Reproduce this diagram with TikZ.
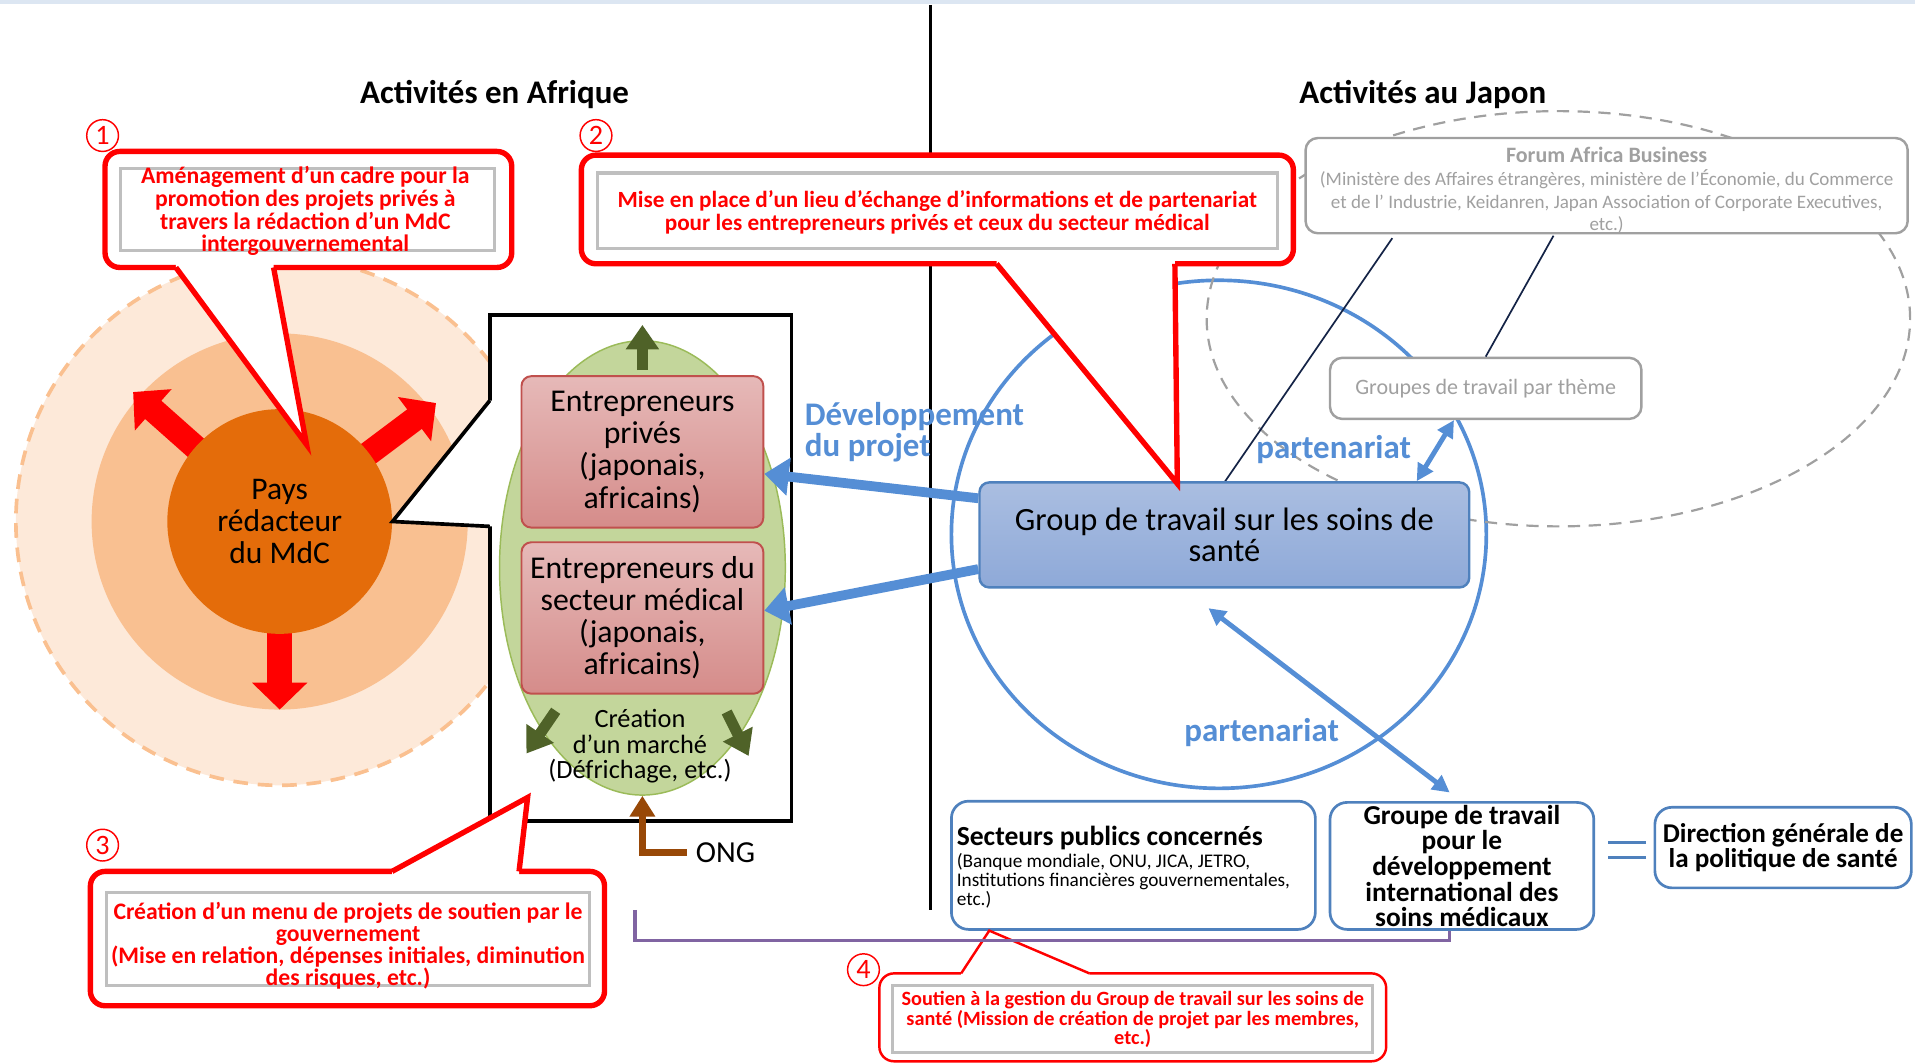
\documentclass[tikz,border=0pt]{standalone}
\usepackage{fontspec}
\setmainfont{Carlito}
\usetikzlibrary{arrows.meta,shapes.geometric,positioning}

\definecolor{calred}{RGB}{255,0,0}
\definecolor{peachout}{RGB}{253,233,217}
\definecolor{peachdash}{RGB}{250,192,144}
\definecolor{peachmid}{RGB}{249,192,145}
\definecolor{orangein}{RGB}{228,108,10}
\definecolor{mktgreen}{RGB}{195,214,155}
\definecolor{mktedge}{RGB}{155,187,89}
\definecolor{olive}{RGB}{79,98,40}
\definecolor{pinktop}{RGB}{230,185,184}
\definecolor{pinkbot}{RGB}{213,140,138}
\definecolor{pinkedge}{RGB}{192,80,77}
\definecolor{ongbrown}{RGB}{152,72,7}
\definecolor{skyblue}{RGB}{85,142,213}
\definecolor{boxblue}{RGB}{79,129,189}
\definecolor{wgtop}{RGB}{170,190,225}
\definecolor{wgbot}{RGB}{142,169,216}
\definecolor{fgray}{RGB}{160,160,160}
\definecolor{navy}{RGB}{20,35,70}
\definecolor{bracket}{RGB}{128,100,162}
\definecolor{topline}{RGB}{220,230,242}

\tikzset{
  title/.style={font=\bfseries\fontsize{13.5}{15}\selectfont},
  numcirc/.style={circle, draw=calred, text=calred, line width=0.6pt, inner sep=0pt,
    minimum size=13pt, font=\fontsize{11.5}{11.5}\selectfont},
  callbox/.style={draw=calred, line width=2.2pt, fill=white, rounded corners=6pt},
  callin/.style={draw=gray!50, line width=1.3pt},
  calltext/.style={text=calred, align=center, inner sep=0pt},
  redarrow/.style={draw=calred, line width=10pt, -{Triangle[length=11pt,width=22pt]}},
  greenarrow/.style={draw=olive, line width=4.5pt, -{Triangle[length=10pt,width=13pt]}},
  ongarrow/.style={draw=ongbrown, line width=3.2pt, -{Triangle[length=8.5pt,width=10pt]}},
  bigblue/.style={draw=skyblue, line width=4pt, -{Triangle[length=10pt,width=15pt]}},
  dblblue/.style={draw=skyblue, line width=2pt,
    {Triangle[length=7pt,width=7pt]}-{Triangle[length=7pt,width=7pt]}},
  pinkbox/.style={draw=pinkedge, line width=0.8pt, rounded corners=4pt,
    top color=pinktop, bottom color=pinkbot, minimum width=99pt, minimum height=62pt,
    inner sep=1pt, align=center, font=\fontsize{13}{13.15}\selectfont},
  graybox/.style={draw=fgray, line width=1pt, rounded corners=5pt, fill=white, text=fgray, align=center},
  bluebox/.style={draw=boxblue, line width=1.1pt, rounded corners=7pt, fill=white, align=center},
  bluelabel/.style={text=skyblue, font=\bfseries\fontsize{13.5}{13}\selectfont},
  navyline/.style={draw=navy, line width=0.7pt},
}

\begin{document}
\begin{tikzpicture}[x=0.5pt,y=-0.5pt]
\useasboundingbox (0,0) rectangle (1568,871);
\draw[topline, line width=2pt] (0,1) -- (1568,1);

\node[title] (tAf) at (405,77) {Activités en Afrique};
\node[title] (tJp) at (1165,77) {Activités au Japon};

% pays redacteur
\def\cx{229}
\def\cy{427}
\fill[peachout] (\cx,\cy) circle[radius=108pt];
\draw[peachdash, line width=1.5pt, dash pattern=on 6pt off 4pt] (\cx,\cy) circle[radius=108pt];
\fill[peachmid] (\cx,\cy) circle[radius=77pt];
\draw[redarrow] (180,384) -- (109,321);
\draw[redarrow] (281,387) -- (357,330);
\draw[redarrow] (\cx,500) -- (\cx,581);
\node[circle, fill=orangein, minimum size=92pt, inner sep=0pt, align=center,
  font=\fontsize{12.9}{13}\selectfont] (pays) at (\cx,\cy) {Pays\\rédacteur\\du MdC};

% market frame
\node[draw, line width=1.5pt, fill=white, minimum width=123.5pt, minimum height=207pt] (frame) at (524.5,465) {};
\coordinate (fb1) at (401,328);
\coordinate (fb2) at (401,431);
\fill[white] (406,328) -- (fb1) -- (pays.east) -- (fb2) -- (406,431) -- cycle;
\draw[line width=1.5pt, line join=miter] (fb1) -- (pays.east) -- (fb2);

\node[ellipse, fill=mktgreen, draw=mktedge, line width=0.6pt, minimum width=117pt,
  minimum height=186pt, inner sep=0pt] (mkt) at (526,465) {};
\draw[greenarrow] (526,303) -- (526,266);
\draw[greenarrow] (455,582) -- (431,617);
\draw[greenarrow] (595,583) -- (613,619);
\node[pinkbox] (pe1) at (526,370) {Entrepreneurs\\privés\\(japonais,\\africains)};
\node[pinkbox] (pe2) at (526,506) {Entrepreneurs du\\secteur médical\\(japonais,\\africains)};
\node[align=center, font=\fontsize{10.8}{10.5}\selectfont] (mtxt) at (524,611)
  {Création\\d’un marché\\(Défrichage, etc.)};
\node[font=\fontsize{12.5}{13}\selectfont] (ong) at (594,698) {ONG};
\draw[ongarrow] (ong.west) -| (mkt.south);

% callout 1
\node[callbox, minimum width=166.5pt, minimum height=47.5pt] (c1) at (252.5,171.5) {};
\coordinate (c1a) at (144,219);
\coordinate (c1b) at (224,219);
\coordinate (c1tip) at (251,364);
\fill[white] (144,213) -- (224,213) -- (c1b) -- (c1tip) -- (c1a) -- cycle;
\draw[calred, line width=2.2pt, line join=miter] (c1a) -- (c1tip) -- (c1b);
\node[callin, minimum width=153pt, minimum height=33.5pt] (c1in) at (252,171.5) {};
\node[calltext, font=\bfseries\fontsize{9.7}{9.3}\selectfont] (c1txt) at (250,173)
  {Aménagement d’un cadre pour la\\promotion des projets privés à\\travers la rédaction d’un MdC\\intergouvernemental};
\node[numcirc] (n1) at (84,111) {1};

% divider
\draw[line width=1.5pt] (762,4) -- (762,745);

% japan side
\draw[skyblue, line width=1.5pt] (998,437.5) ellipse[x radius=109.5pt, y radius=104pt];
\draw[fgray, line width=0.9pt, dash pattern=on 5pt off 3.5pt] (1276,261) ellipse[x radius=144pt, y radius=85pt];
\node[graybox, minimum width=246.5pt, minimum height=39pt] (forum) at (1315.5,152) {};
\node[text=fgray, align=center, inner sep=0pt, font=\fontsize{7.8}{9.3}\selectfont] (forumtxt) at (1315.5,156)
  {{\bfseries\fontsize{9}{9.3}\selectfont Forum Africa Business}\\(Ministère des Affaires étrangères, ministère de l’Économie, du Commerce\\et de l’ Industrie, Keidanren, Japan Association of Corporate Executives,\\etc.)};
\node[graybox, minimum width=127.5pt, minimum height=25pt, font=\fontsize{9}{10}\selectfont] (thm) at (1216.5,318)
  {Groupes de travail par thème};
\coordinate (f1) at (1140,195);
\coordinate (f2) at (1272,193);
\draw[navyline] (f1) -- (1002.5,395);
\draw[navyline] (f2) -- (thm.north);
\node[draw=boxblue, line width=1pt, rounded corners=4pt, top color=wgtop, bottom color=wgbot,
  minimum width=200.5pt, minimum height=43pt, align=center, font=\fontsize{13.3}{13}\selectfont] (wg) at (1002.5,438)
  {Group de travail sur les soins de\\santé};
\draw[bigblue] ([yshift=15pt]wg.west) -- ([yshift=-9pt]pe1.east);
\draw[bigblue] ([yshift=-14pt]wg.west) -- ([yshift=3pt]pe2.east);
\draw[dblblue] ([xshift=-22pt]wg.north east) -- ([xshift=-13pt]thm.south);
\node[bluelabel, align=left, anchor=west] (dev) at (652,354) {Développement\\du projet};
\node[bluelabel] (part1) at (1092,368) {partenariat};
\node[bluelabel] (part2) at (1033,600) {partenariat};

% bottom boxes
\node[bluebox, minimum width=149pt, minimum height=52.5pt] (pub) at (928,708.5) {};
\node[anchor=west, align=left, inner sep=0pt, font=\fontsize{7.9}{7.8}\selectfont] (pubtxt) at (783,710)
  {{\bfseries\fontsize{11.3}{11}\selectfont Secteurs publics concernés}\\[1pt](Banque mondiale, ONU, JICA, JETRO,\\Institutions financières gouvernementales,\\etc.)};
\node[bluebox, minimum width=108pt, minimum height=52pt, inner sep=1pt,
  font=\bfseries\fontsize{11.2}{10.5}\selectfont] (gdev) at (1197,709)
  {Groupe de travail\\pour le\\développement\\international des\\soins médicaux};
\node[bluebox, minimum width=105pt, minimum height=33pt, inner sep=1pt,
  font=\bfseries\fontsize{11.1}{10.5}\selectfont] (dir) at (1460,694)
  {Direction générale de\\la politique de santé};
\draw[boxblue, line width=1.3pt] ([xshift=-3pt,yshift=2pt]dir.west) -- ++(-15.5pt,0);
\draw[boxblue, line width=1.3pt] ([xshift=-3pt,yshift=-4pt]dir.west) -- ++(-15.5pt,0);
\draw[dblblue] ([xshift=-6.5pt,yshift=-8pt]wg.south) -- ([xshift=-5pt,yshift=3.5pt]gdev.north);

% callout 4
\node[callbox, line width=1pt, minimum width=207.5pt, minimum height=36pt] (c4) at (927.5,833) {};
\coordinate (c4a) at (787,797);
\coordinate (c4b) at (892,797);
\coordinate (c4tip) at (810,762);
\fill[white] (787,801) -- (892,801) -- (c4b) -- (c4tip) -- (c4a) -- cycle;
\draw[calred, line width=1pt, line join=miter] (c4a) -- (c4tip) -- (c4b);
\node[callin, minimum width=196.5pt, minimum height=27.5pt] (c4in) at (927.5,834.5) {};
\node[calltext, font=\bfseries\fontsize{8.3}{8}\selectfont] (c4txt) at (927.5,835)
  {Soutien à la gestion du Group de travail sur les soins de\\santé (Mission de création de projet par les membres,\\etc.)};
\node[numcirc] (n4) at (707,794) {4};

\coordinate (brk) at (520,745);
\draw[bracket, line width=1.3pt] (brk) |- ([xshift=-5pt,yshift=-4pt]gdev.south) -- ([xshift=-5pt]gdev.south);

% callout 2
\node[callbox, minimum width=291.5pt, minimum height=44.5pt] (c2) at (767.5,171.5) {};
\coordinate (c2a) at (816,216);
\coordinate (c2b) at (962,216);
\coordinate (c2tip) at (964,396);
\fill[white] (816,210) -- (962,210) -- (c2b) -- (c2tip) -- (c2a) -- cycle;
\draw[calred, line width=2.2pt, line join=miter] (c2a) -- (c2tip) -- (c2b);
\node[callin, minimum width=278.5pt, minimum height=31pt] (c2in) at (767.5,172.6) {};
\node[calltext, font=\bfseries\fontsize{9.5}{9.5}\selectfont] (c2txt) at (767.5,174)
  {Mise en place d’un lieu d’échange d’informations et de partenariat\\pour les entrepreneurs privés et ceux du secteur médical};
\node[numcirc] (n2) at (488,111) {2};

% callout 3
\node[callbox, minimum width=210.5pt, minimum height=55pt] (c3) at (284.5,768.5) {};
\coordinate (c3a) at (321,713.5);
\coordinate (c3b) at (425,713.5);
\coordinate (c3tip) at (432,653);
\fill[white] (321,719) -- (425,719) -- (c3b) -- (c3tip) -- (c3a) -- cycle;
\draw[calred, line width=2.2pt, line join=miter] (c3a) -- (c3tip) -- (c3b);
\node[callin, minimum width=198pt, minimum height=38pt] (c3in) at (285,769) {};
\node[calltext, font=\bfseries\fontsize{9.7}{9}\selectfont] (c3txt) at (285,774)
  {Création d’un menu de projets de soutien par le\\gouvernement\\(Mise en relation, dépenses initiales, diminution\\des risques, etc.)};
\node[numcirc] (n3) at (84,692) {3};
\end{tikzpicture}
\end{document}
